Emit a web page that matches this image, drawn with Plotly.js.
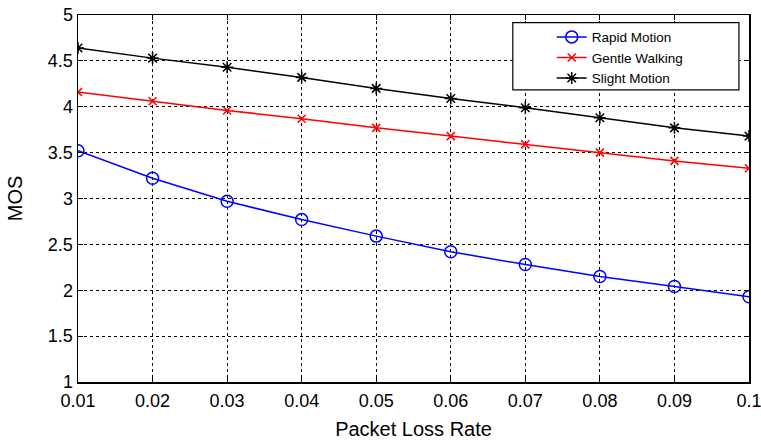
<!DOCTYPE html>
<html>
<head>
<meta charset="utf-8">
<script src="https://cdn.plot.ly/plotly-3.0.1.min.js"></script>
<style>html,body{margin:0;padding:0;background:#fff;}#chart{width:761px;height:443px;}</style>
</head>
<body>
<div id="chart"></div>
<script>
const lossRate = [0.01, 0.02, 0.03, 0.04, 0.05, 0.06, 0.07, 0.08, 0.09, 0.1];
const rapidMotion = [3.52, 3.22, 2.97, 2.77, 2.59, 2.42, 2.28, 2.15, 2.04, 1.93];
const gentleWalking = [4.16, 4.06, 3.96, 3.87, 3.77, 3.68, 3.59, 3.50, 3.41, 3.33];
const slightMotion = [4.64, 4.53, 4.43, 4.32, 4.20, 4.09, 3.99, 3.88, 3.77, 3.68];
const seriesNames = ["Rapid Motion", "Gentle Walking", "Slight Motion"];

const font = "Liberation Sans, Arial, sans-serif";
const traces = [
  {x: lossRate, y: rapidMotion, name: seriesNames[0], mode: "lines+markers",
   line: {color: "#0000ff", width: 1.5},
   marker: {symbol: "circle-open", size: 12, color: "#0000ff", line: {width: 1.5}}},
  {x: lossRate, y: gentleWalking, name: seriesNames[1], mode: "lines+markers",
   line: {color: "#ff0000", width: 1.5},
   marker: {symbol: "x-thin-open", size: 8, color: "#ff0000", line: {width: 1.5}}},
  {x: lossRate, y: slightMotion, name: seriesNames[2], mode: "lines+markers",
   line: {color: "#000000", width: 1.5},
   marker: {symbol: "asterisk-open", size: 10, color: "#000000", line: {width: 1.5}}}
];

const axisCommon = {
  showline: true, linecolor: "#000", linewidth: 1.5, mirror: "ticks",
  ticks: "inside", ticklen: 5, tickcolor: "#000", tickwidth: 1,
  showgrid: true, gridcolor: "#000", gridwidth: 1, griddash: "3px,3px",
  zeroline: false, ticklabeloverflow: "allow",
  tickfont: {family: font, size: 18, color: "#000"}
};

const layout = {
  width: 761, height: 443,
  margin: {l: 78, r: 12, t: 15, b: 61},
  paper_bgcolor: "#fff", plot_bgcolor: "#fff",
  showlegend: true,
  legend: {x: 0.706, y: 0.982, xanchor: "left", yanchor: "top",
    bgcolor: "rgba(0,0,0,0)", borderwidth: 0,
    font: {family: font, size: 13.5, color: "#000"}, tracegroupgap: 0},
  shapes: [
    {type: "rect", xref: "paper", yref: "paper", x0: 0.648, x1: 0.985, y0: 0.796, y1: 0.979,
     fillcolor: "#fff", line: {color: "#000", width: 1.2}, layer: "above"}
  ],
  xaxis: Object.assign({}, axisCommon, {
    range: [0.01, 0.1], tick0: 0.01, dtick: 0.01, ticklabelstandoff: 2,
    title: {text: "Packet Loss Rate", font: {family: font, size: 20, color: "#000"}, standoff: 12}
  }),
  yaxis: Object.assign({}, axisCommon, {
    range: [1, 5], tick0: 1, dtick: 0.5,
    title: {text: "MOS", font: {family: font, size: 20, color: "#000"}, standoff: 20}
  })
};

Plotly.newPlot("chart", traces, layout, {displayModeBar: false, staticPlot: true});
</script>
</body>
</html>
